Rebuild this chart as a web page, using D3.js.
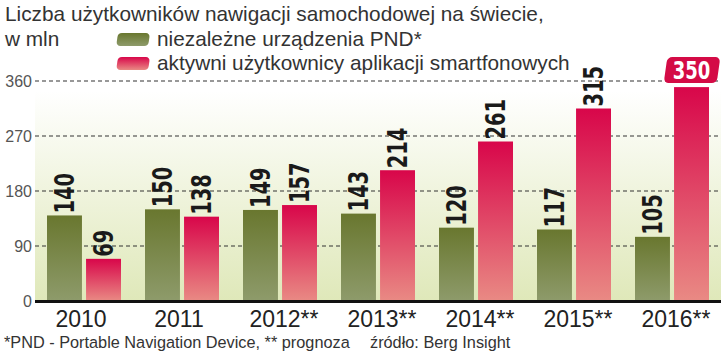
<!DOCTYPE html>
<html>
<head>
<meta charset="utf-8">
<script src="https://cdn.jsdelivr.net/npm/d3@7"></script>
<style>
  body { margin: 0; background: #fff; }
  text { font-family: "Liberation Sans", Arial, sans-serif; }
</style>
</head>
<body>
<div id="chart"></div>
<script>
// dane z wykresu
var years = ["2010", "2011", "2012**", "2013**", "2014**", "2015**", "2016**"];
var pnd = [140, 150, 149, 143, 120, 117, 105];
var smart = [69, 138, 157, 214, 261, 315, 350];
var series = ["pnd", "smart"];
var seriesNames = ["niezależne urządzenia PND*", "aktywni użytkownicy aplikacji smartfonowych"];
var yTicks = [0, 90, 180, 270, 360];

var width = 721, height = 363;
var plotLeft = 35, plotRight = 721, plotTop = 81, plotBottom = 301;
var boldFont = "'DejaVu Sans Condensed', 'Liberation Sans Narrow', sans-serif";

var svg = d3.select("#chart").append("svg")
  .attr("width", width)
  .attr("height", height);

var defs = svg.append("defs");
function grad(id, c1, c2) {
  var g = defs.append("linearGradient").attr("id", id)
    .attr("x1", 0).attr("y1", 0).attr("x2", 0).attr("y2", 1);
  g.append("stop").attr("offset", "0%").attr("stop-color", c1);
  g.append("stop").attr("offset", "100%").attr("stop-color", c2);
}
grad("bg", "#ffffff", "#dfe8b9");
grad("gGreen", "#69772f", "#8e9b6b");
grad("gRed", "#d8064a", "#e98a84");

var x = d3.scaleBand().domain(years).range([plotLeft, plotRight])
  .paddingInner(0.245).paddingOuter(0.1225);
var x1 = d3.scaleBand().domain(series).range([0, x.bandwidth()]).paddingInner(0.105);
var y = d3.scaleLinear().domain([0, 360]).range([plotBottom, plotTop]);

// tlo
svg.append("rect")
  .attr("x", plotLeft).attr("y", y(360) + 10)
  .attr("width", plotRight - plotLeft).attr("height", plotBottom - y(360) - 10)
  .attr("fill", "url(#bg)");

// siatka
svg.append("g").selectAll("line")
  .data(yTicks.filter(function (d) { return d > 0; }))
  .enter().append("line")
  .attr("x1", plotLeft).attr("x2", plotRight)
  .attr("y1", function (d) { return y(d); })
  .attr("y2", function (d) { return y(d); })
  .attr("stroke", "#333")
  .attr("stroke-width", 1.1)
  .attr("stroke-dasharray", "4,3");

svg.append("g").selectAll("text")
  .data(yTicks)
  .enter().append("text")
  .attr("x", 32)
  .attr("y", function (d) { return y(d) + 6; })
  .attr("text-anchor", "end")
  .attr("font-size", 16)
  .attr("fill", "#555")
  .text(function (d) { return d; });

// slupki
var data = years.map(function (yr, i) {
  return { year: yr, vals: [{ k: "pnd", v: pnd[i] }, { k: "smart", v: smart[i] }] };
});

var groups = svg.append("g").selectAll("g")
  .data(data)
  .enter().append("g")
  .attr("transform", function (d) { return "translate(" + x(d.year) + ",0)"; });

groups.selectAll("rect")
  .data(function (d) { return d.vals; })
  .enter().append("rect")
  .attr("x", function (d) { return x1(d.k); })
  .attr("y", function (d) { return y(d.v); })
  .attr("width", x1.bandwidth())
  .attr("height", function (d) { return plotBottom - y(d.v); })
  .attr("fill", function (d) { return d.k == "pnd" ? "url(#gGreen)" : "url(#gRed)"; });

groups.selectAll("text.val")
  .data(function (d) { return d.vals.filter(function (e) { return e.v < 340; }); })
  .enter().append("text")
  .attr("class", "val")
  .attr("transform", function (d) {
    return "translate(" + (x1(d.k) + x1.bandwidth() / 2) + "," + (y(d.v) - 2) + ") rotate(-90) scale(0.8,1)";
  })
  .attr("dy", "0.36em")
  .style("font-family", boldFont)
  .attr("font-weight", "bold")
  .attr("font-size", 27)
  .attr("fill", "#1a1a1a")
  .text(function (d) { return d.v; });

// wyrozniona wartosc 350
var last = years.length - 1;
var bx = x(years[last]) + x1("smart") + x1.bandwidth() / 2;
var badge = svg.append("g").attr("transform", "translate(" + bx + "," + (y(smart[last]) - 17) + ")");
badge.append("rect")
  .attr("x", -26).attr("y", -13)
  .attr("width", 53).attr("height", 26)
  .attr("rx", 5)
  .attr("transform", "skewX(-8)")
  .attr("fill", "#d40b46");
badge.append("text")
  .attr("text-anchor", "middle")
  .attr("y", 9)
  .attr("transform", "scale(0.8,1)")
  .style("font-family", boldFont)
  .attr("font-weight", "bold")
  .attr("font-size", 25)
  .attr("fill", "#fff")
  .text(smart[last]);

// os x
svg.append("line")
  .attr("x1", plotLeft).attr("x2", plotRight)
  .attr("y1", plotBottom + 0.5).attr("y2", plotBottom + 0.5)
  .attr("stroke", "#111").attr("stroke-width", 3);

svg.append("g").selectAll("text")
  .data(years)
  .enter().append("text")
  .attr("x", function (d) { return x(d) + x.bandwidth() / 2 + (d.length > 4 ? 4 : -3); })
  .attr("y", 327)
  .attr("text-anchor", "middle")
  .attr("font-size", 23)
  .attr("fill", "#222")
  .text(function (d) { return d; });

// tytul i legenda
svg.append("text").attr("x", 5).attr("y", 21)
  .attr("font-size", 20.8).attr("fill", "#333")
  .text("Liczba użytkowników nawigacji samochodowej na świecie,");
svg.append("text").attr("x", 5).attr("y", 46)
  .attr("font-size", 20.8).attr("fill", "#333")
  .text("w mln");

var legColors = ["url(#gGreen)", "url(#gRed)"];
var leg = svg.append("g").selectAll("g")
  .data(seriesNames)
  .enter().append("g")
  .attr("transform", function (d, i) { return "translate(118," + (33 + i * 24) + ")"; });
leg.append("rect")
  .attr("width", 32).attr("height", 13).attr("rx", 4)
  .attr("transform", "skewX(-8)")
  .attr("fill", function (d, i) { return legColors[i]; });
leg.append("text")
  .attr("x", 39).attr("y", 13)
  .attr("font-size", 20.8).attr("fill", "#333")
  .text(function (d) { return d; });

// stopka
svg.append("text").attr("x", 4).attr("y", 348)
  .attr("font-size", 16.3).attr("fill", "#333")
  .text("*PND - Portable Navigation Device, ** prognoza");
svg.append("text").attr("x", 370).attr("y", 348)
  .attr("font-size", 16.3).attr("fill", "#333")
  .text("źródło: Berg Insight");
</script>
</body>
</html>
